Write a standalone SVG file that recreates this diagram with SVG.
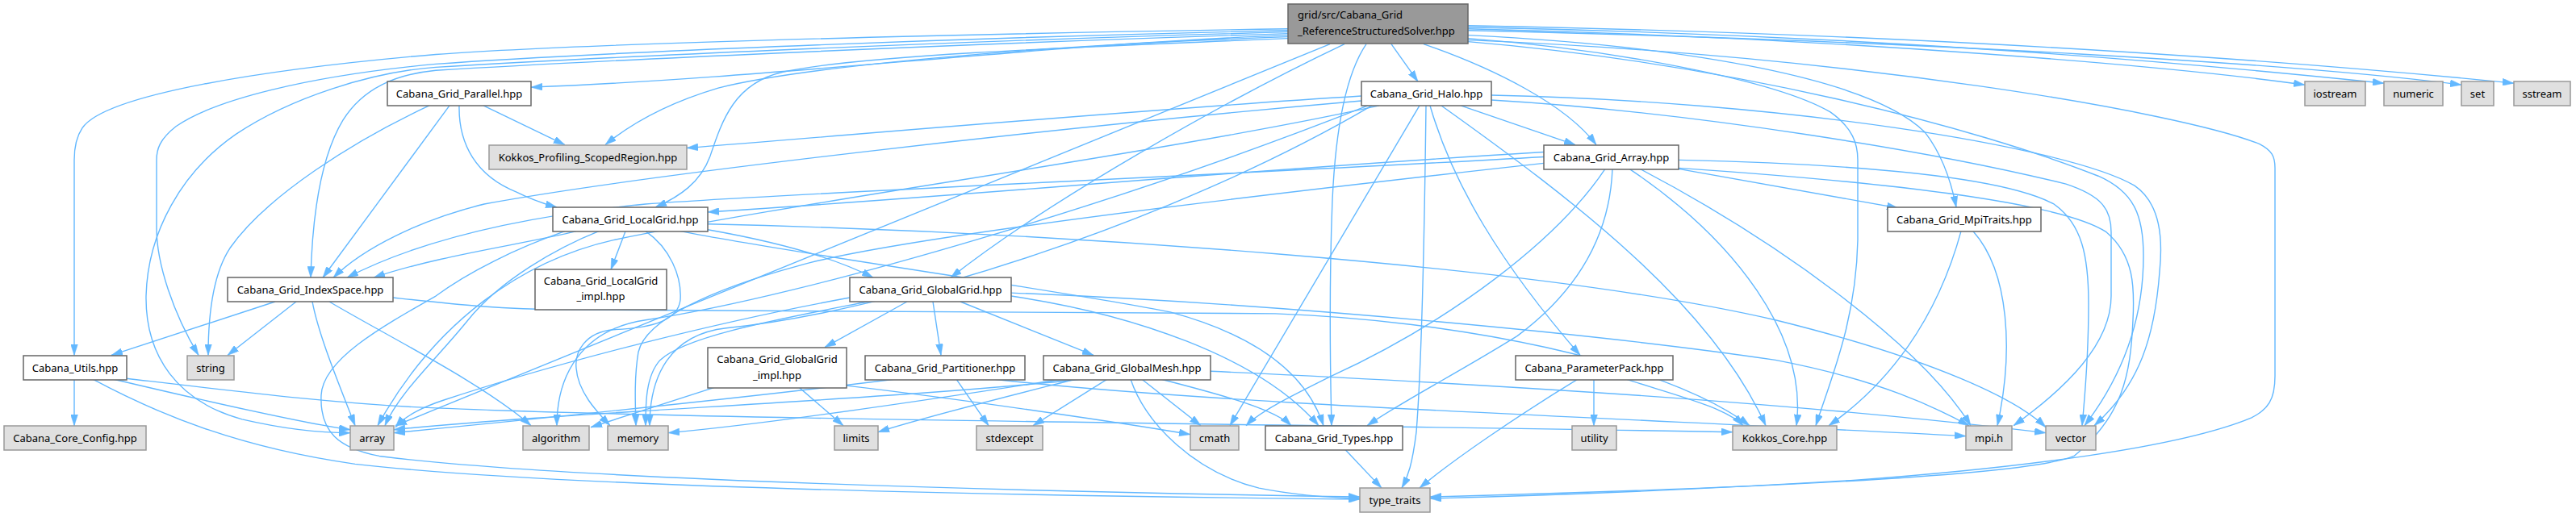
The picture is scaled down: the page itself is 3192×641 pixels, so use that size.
<svg xmlns="http://www.w3.org/2000/svg" width="3192" height="641" viewBox="0 0 3192 641">
<defs>
<style>
.e{fill:none;stroke:#63b8ff;stroke-width:1.4;marker-end:url(#ah)}
.w{fill:#ffffff;stroke:#666666;stroke-width:1.5}
.g{fill:#e0e0e0;stroke:#999999;stroke-width:1.5}
.r{fill:#999999;stroke:#666666;stroke-width:1.5}
text{font-family:"Noto Sans","DejaVu Sans",sans-serif;font-size:13px;fill:#000000;text-anchor:middle}
text.l{text-anchor:start}
</style>
<marker id="ah" markerUnits="userSpaceOnUse" markerWidth="14" markerHeight="9" viewBox="0 0 14 9" refX="14" refY="4.5" orient="auto">
<path d="M0,0 L14,4.5 L0,9 z" fill="#63b8ff" stroke="#63b8ff" stroke-width="0.5"/>
</marker>
</defs>
<rect width="3192" height="641" fill="#ffffff"/>
<g id="edges" transform="matrix(1 0 0 0.992 0 0)">
<path class="e" d="M1596,36 C1100,44 700,56 540,68 C330,86 130,118 102,160 C94,172 92,185 92,200 L92,444"/>
<path class="e" d="M1596,38 C1150,48 700,68 540,80 C380,95 265,125 218,158 C198,174 194,186 194,200 L194,285 C194,330 215,392 246,444"/>
<path class="e" d="M1596,40 C1150,52 700,74 540,84 C460,90 360,122 292,168 C225,215 183,290 181,370 C180,445 220,502 300,524 C360,538 405,541 434,541"/>
<path class="e" d="M1596,42 C1150,56 700,78 540,88 C490,93 450,110 425,150 C398,195 387,270 385,347"/>
<path class="e" d="M1596,44 C1300,55 950,98 658,109"/>
<path class="e" d="M1596,46 C1300,56 1000,82 890,110 C830,128 785,152 750,181"/>
<path class="e" d="M1596,48 C1300,60 1060,70 970,90 C910,104 895,150 880,195 C868,228 842,246 812,259"/>
<path class="e" d="M1666,55 C1520,125 1300,250 1178,347"/>
<path class="e" d="M1648,55 L490,532"/>
<path class="e" d="M1693,55 C1668,92 1655,160 1651,250 C1647,350 1648,450 1650,532"/>
<path class="e" d="M1724,55 L1757,102"/>
<path class="e" d="M1764,55 C1850,85 1940,130 1978,181"/>
<path class="e" d="M1819,36 C2300,48 2700,84 2856,106"/>
<path class="e" d="M1819,34 C2400,46 2800,88 2954,104"/>
<path class="e" d="M1819,38 C2400,52 2850,80 3050,106"/>
<path class="e" d="M1819,32 C2450,44 2900,82 3115,104"/>
<path class="e" d="M1819,44 C2100,58 2320,100 2385,165 C2408,195 2418,228 2424,259"/>
<path class="e" d="M1819,48 C2000,62 2200,100 2268,140 C2296,160 2302,180 2302,200 L2302,300 C2300,400 2270,470 2250,532"/>
<path class="e" d="M1819,52 C2150,80 2450,160 2600,220 C2645,240 2656,270 2656,320 C2656,400 2630,470 2583,532"/>
<path class="e" d="M1819,50 C2300,70 2700,140 2800,180 C2815,188 2819,195 2819,210 L2819,470 C2819,500 2810,512 2790,522 C2700,560 2500,585 2300,600 C2100,612 1900,620 1772,623"/>
<path class="e" d="M557,132 L400,347"/>
<path class="e" d="M532,132 C440,175 330,245 285,310 C262,345 258,400 258,444"/>
<path class="e" d="M599,132 L700,181"/>
<path class="e" d="M569,132 C568,180 590,220 640,240 C660,250 675,255 690,259"/>
<path class="e" d="M1687,120 C1400,138 1100,165 851,185"/>
<path class="e" d="M1687,126 C1300,160 800,218 600,255 C520,275 450,310 413,347"/>
<path class="e" d="M1709,132 C1450,190 1000,250 760,300 C650,325 540,400 468,532"/>
<path class="e" d="M1810,132 L1952,181"/>
<path class="e" d="M1772,132 C1800,230 1860,330 1958,444"/>
<path class="e" d="M1767,132 C1765,300 1762,450 1755,540 C1750,580 1745,595 1737,610"/>
<path class="e" d="M1759,132 L1524,532"/>
<path class="e" d="M1786,132 C1950,250 2120,380 2188,532"/>
<path class="e" d="M1848,125 C2100,140 2400,190 2560,230 C2605,245 2616,262 2616,290 L2616,370 C2616,430 2560,485 2495,532"/>
<path class="e" d="M1848,119 C2200,126 2560,182 2645,232 C2678,255 2680,300 2676,340 C2670,420 2652,480 2595,532"/>
<path class="e" d="M1700,132 C1450,280 1100,390 900,410 C830,418 805,470 805,532"/>
<path class="e" d="M1695,132 C1400,250 1000,370 800,400 C720,412 690,470 690,532"/>
<path class="e" d="M1913,190 C1500,215 1200,245 877,265"/>
<path class="e" d="M1913,196 C1500,220 1000,240 800,255 C650,270 520,300 430,347"/>
<path class="e" d="M1913,204 C1500,250 1100,300 990,332 C880,362 800,400 791,440 C786,470 787,500 788,532"/>
<path class="e" d="M2080,211 L2352,260"/>
<path class="e" d="M1998,211 C1995,290 1960,360 1880,420 C1800,470 1740,500 1694,532"/>
<path class="e" d="M1989,211 C1930,300 1800,400 1650,470 C1600,495 1560,515 1544,532"/>
<path class="e" d="M2019,211 C2150,300 2240,420 2226,532"/>
<path class="e" d="M2032,211 C2200,300 2380,430 2442,532"/>
<path class="e" d="M2080,200 C2300,205 2480,220 2545,255 C2580,280 2588,320 2588,380 C2588,440 2584,490 2580,532"/>
<path class="e" d="M2080,210 C2300,225 2550,250 2610,290 C2645,320 2645,360 2643,400 C2640,470 2630,520 2570,570 C2500,600 2000,615 1772,621"/>
<path class="e" d="M714,289 C650,305 540,320 463,347"/>
<path class="e" d="M742,289 C690,310 620,350 580,400 C540,450 495,490 477,532"/>
<path class="e" d="M775,289 L757,337"/>
<path class="e" d="M800,289 C830,310 845,345 843,375 C840,400 810,410 760,412 C725,415 712,440 714,460 C716,490 740,515 756,532"/>
<path class="e" d="M877,287 C950,300 1030,320 1082,347"/>
<path class="e" d="M843,289 C1000,320 1300,360 1450,390 C1560,420 1620,470 1640,532"/>
<path class="e" d="M877,280 C1300,290 1900,330 2200,400 C2400,450 2500,500 2535,534"/>
<path class="e" d="M700,289 C640,310 580,340 540,370 C470,410 400,450 398,494 C396,540 420,560 470,570 C700,600 1300,615 1685,621"/>
<path class="e" d="M341,377 L138,444"/>
<path class="e" d="M367,377 L282,444"/>
<path class="e" d="M387,377 C395,420 420,480 440,532"/>
<path class="e" d="M408,377 C480,420 600,480 658,532"/>
<path class="e" d="M487,372 C560,380 620,387 700,387 L1580,392 C1800,400 2060,450 2168,532"/>
<path class="e" d="M1124,377 L1022,434"/>
<path class="e" d="M1156,377 L1166,444"/>
<path class="e" d="M1190,377 L1355,444"/>
<path class="e" d="M1253,370 C1400,392 1560,445 1634,532"/>
<path class="e" d="M1253,366 C1600,380 2000,420 2200,450 C2330,475 2400,510 2440,532"/>
<path class="e" d="M1075,377 C960,400 850,420 818,450 C800,470 800,505 800,532"/>
<path class="e" d="M1053,372 C900,400 700,450 550,500 C520,510 500,522 490,534"/>
<path class="e" d="M886,484 L732,534"/>
<path class="e" d="M990,484 L1045,532"/>
<path class="e" d="M1049,482 C1200,500 1400,530 1475,543"/>
<path class="e" d="M1108,474 C900,500 600,530 488,541"/>
<path class="e" d="M1185,474 L1225,532"/>
<path class="e" d="M1232,474 C1500,505 2000,522 2436,545"/>
<path class="e" d="M1339,474 C1100,500 700,515 488,537"/>
<path class="e" d="M1332,474 C1250,495 1150,520 1088,540"/>
<path class="e" d="M1315,474 C1150,500 950,530 828,541"/>
<path class="e" d="M1372,474 L1280,532"/>
<path class="e" d="M1415,474 L1488,532"/>
<path class="e" d="M1439,474 C1520,495 1580,512 1600,532"/>
<path class="e" d="M1401,474 C1420,530 1480,590 1560,610 C1610,620 1650,622 1685,623"/>
<path class="e" d="M1500,464 C1800,478 2200,500 2535,541"/>
<path class="e" d="M1667,562 L1712,610"/>
<path class="e" d="M1955,474 C1880,520 1800,575 1759,610"/>
<path class="e" d="M1975,474 L1975,532"/>
<path class="e" d="M2015,474 C2080,495 2140,510 2160,532"/>
<path class="e" d="M92,474 L92,532"/>
<path class="e" d="M141,474 C250,500 380,530 434,537"/>
<path class="e" d="M157,473 C300,490 420,505 540,510 C900,525 1600,530 2147,540"/>
<path class="e" d="M115,474 C200,520 300,560 440,580 C700,610 1300,620 1685,624"/>
<path class="e" d="M2430,289 C2400,400 2340,480 2266,532"/>
<path class="e" d="M2445,289 C2490,340 2495,440 2475,532"/>
</g>
<g id="n_root"><rect class="r" x="1596" y="5" width="223" height="49"/><text class="l" x="1608" y="23">grid/src/Cabana_Grid</text><text class="l" x="1608" y="42.5">_ReferenceStructuredSolver.hpp</text></g>
<g id="n_parallel"><rect class="w" x="480" y="101" width="178" height="30"/><text x="569" y="120.5">Cabana_Grid_Parallel.hpp</text></g>
<g id="n_halo"><rect class="w" x="1687" y="101" width="161" height="30"/><text x="1767.5" y="120.5">Cabana_Grid_Halo.hpp</text></g>
<g id="n_iostream"><rect class="g" x="2856" y="101" width="75" height="30"/><text x="2893.5" y="120.5">iostream</text></g>
<g id="n_numeric"><rect class="g" x="2954" y="101" width="73" height="30"/><text x="2990.5" y="120.5">numeric</text></g>
<g id="n_set"><rect class="g" x="3050" y="101" width="40" height="30"/><text x="3070" y="120.5">set</text></g>
<g id="n_sstream"><rect class="g" x="3115" y="101" width="70" height="30"/><text x="3150" y="120.5">sstream</text></g>
<g id="n_kprof"><rect class="g" x="606" y="180" width="245" height="30"/><text x="728.5" y="199.5">Kokkos_Profiling_ScopedRegion.hpp</text></g>
<g id="n_array_h"><rect class="w" x="1913" y="180" width="167" height="30"/><text x="1996.5" y="199.5">Cabana_Grid_Array.hpp</text></g>
<g id="n_localgrid"><rect class="w" x="685" y="257" width="192" height="30"/><text x="781" y="276.5">Cabana_Grid_LocalGrid.hpp</text></g>
<g id="n_mpitraits"><rect class="w" x="2339" y="257" width="190" height="30"/><text x="2434" y="276.5">Cabana_Grid_MpiTraits.hpp</text></g>
<g id="n_indexspace"><rect class="w" x="282" y="344" width="205" height="30"/><text x="384.5" y="363.5">Cabana_Grid_IndexSpace.hpp</text></g>
<g id="n_lgimpl"><rect class="w" x="663" y="334" width="163" height="50"/><text x="744.5" y="352.5">Cabana_Grid_LocalGrid</text><text x="744.5" y="371.5">_impl.hpp</text></g>
<g id="n_globalgrid"><rect class="w" x="1053" y="344" width="200" height="30"/><text x="1153" y="363.5">Cabana_Grid_GlobalGrid.hpp</text></g>
<g id="n_ggimpl"><rect class="w" x="877" y="431" width="172" height="50"/><text x="963" y="449.5">Cabana_Grid_GlobalGrid</text><text x="963" y="469.5">_impl.hpp</text></g>
<g id="n_utils"><rect class="w" x="29" y="441" width="128" height="30"/><text x="93" y="460.5">Cabana_Utils.hpp</text></g>
<g id="n_string"><rect class="g" x="232" y="441" width="58" height="30"/><text x="261" y="460.5">string</text></g>
<g id="n_partitioner"><rect class="w" x="1072" y="441" width="198" height="30"/><text x="1171" y="460.5">Cabana_Grid_Partitioner.hpp</text></g>
<g id="n_globalmesh"><rect class="w" x="1293" y="441" width="207" height="30"/><text x="1396.5" y="460.5">Cabana_Grid_GlobalMesh.hpp</text></g>
<g id="n_parampack"><rect class="w" x="1878" y="441" width="195" height="30"/><text x="1975.5" y="460.5">Cabana_ParameterPack.hpp</text></g>
<g id="n_coreconfig"><rect class="g" x="5" y="528" width="176" height="30"/><text x="93" y="547.5">Cabana_Core_Config.hpp</text></g>
<g id="n_array"><rect class="g" x="434" y="528" width="54" height="30"/><text x="461" y="547.5">array</text></g>
<g id="n_algorithm"><rect class="g" x="648" y="528" width="82" height="30"/><text x="689" y="547.5">algorithm</text></g>
<g id="n_memory"><rect class="g" x="753" y="528" width="75" height="30"/><text x="790.5" y="547.5">memory</text></g>
<g id="n_limits"><rect class="g" x="1034" y="528" width="54" height="30"/><text x="1061" y="547.5">limits</text></g>
<g id="n_stdexcept"><rect class="g" x="1210" y="528" width="82" height="30"/><text x="1251" y="547.5">stdexcept</text></g>
<g id="n_cmath"><rect class="g" x="1475" y="528" width="60" height="30"/><text x="1505" y="547.5">cmath</text></g>
<g id="n_types"><rect class="w" x="1568" y="528" width="170" height="30"/><text x="1653" y="547.5">Cabana_Grid_Types.hpp</text></g>
<g id="n_utility"><rect class="g" x="1948" y="528" width="55" height="30"/><text x="1975.5" y="547.5">utility</text></g>
<g id="n_kcore"><rect class="g" x="2147" y="528" width="129" height="30"/><text x="2211.5" y="547.5">Kokkos_Core.hpp</text></g>
<g id="n_mpih"><rect class="g" x="2436" y="528" width="57" height="30"/><text x="2464.5" y="547.5">mpi.h</text></g>
<g id="n_vector"><rect class="g" x="2535" y="528" width="62" height="30"/><text x="2566" y="547.5">vector</text></g>
<g id="n_typetraits"><rect class="g" x="1685" y="605" width="87" height="30"/><text x="1728.5" y="624.5">type_traits</text></g>
</svg>
